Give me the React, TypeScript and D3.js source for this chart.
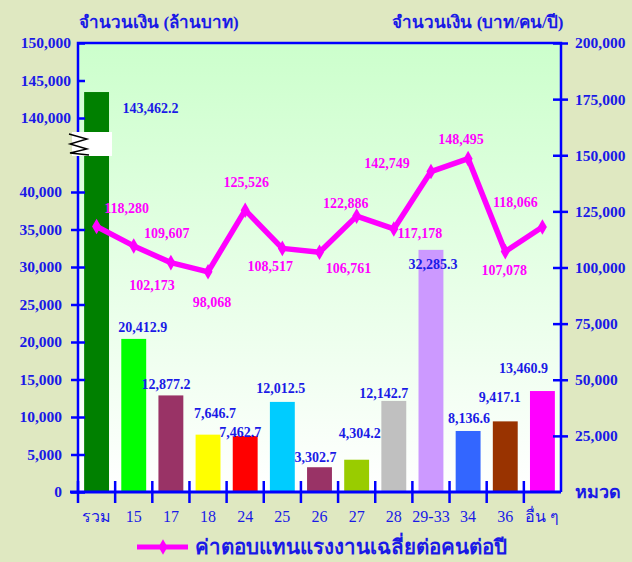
import { useEffect, useRef } from "react";
import * as d3 from "d3";

const categories = ["รวม", "15", "17", "18", "24", "25", "26", "27", "28", "29-33", "34", "36", "อื่น ๆ"];
const amounts = [143462.2, 20412.9, 12877.2, 7646.7, 7462.7, 12012.5, 3302.7, 4304.2, 12142.7, 32285.3, 8136.6, 9417.1, 13460.9];
const perPerson = [118280, 109607, 102173, 98068, 125526, 108517, 106761, 122886, 117178, 142749, 148495, 107078, 118066];
const barColors = ["#008000", "#00ff00", "#993366", "#ffff00", "#ff0000", "#00ccff", "#993366", "#99cc00", "#c0c0c0", "#cc99ff", "#3366ff", "#993300", "#ff00ff"];
const leftTicksLow = [0, 5000, 10000, 15000, 20000, 25000, 30000, 35000, 40000];
const leftTicksHigh = [140000, 145000, 150000];
const rightTicks = [25000, 50000, 75000, 100000, 125000, 150000, 175000, 200000];

// hand placed label offsets (label centre relative to bar top / line point)
const barLabelOffsets = [[54, 16], [9, -12], [-5, -11], [7, -22], [-5, -4], [-1.5, -14], [-4, -10], [3, -27], [-10, -8], [2, 14], [1, -13], [-5.5, -24], [-19, -23]];
const lineLabelOffsets = [[30, -18], [33, -13], [-19, 22], [4, 30], [1, -28], [-12, 18], [29, 16], [-11, -13], [26, 4], [-44, -8], [-7, -20], [-1, 18], [-27, -25]];

const BLUE = "#0000ff";
const TEXT_BLUE = "#1a1ae6";
const MAGENTA = "#ff00ff";
const SERIF = "'Liberation Serif', 'Times New Roman', serif";

export default function App() {
  const svgRef = useRef<SVGSVGElement>(null);

  useEffect(() => {
    const width = 632;
    const height = 562;
    const left = 78;
    const right = 561;
    const top = 43;
    const bottom = 492;
    const breakTop = 132;
    const breakBottom = 156;

    const svg = d3.select(svgRef.current);
    svg.selectAll("*").remove();

    const defs = svg.append("defs");
    const grad = defs
      .append("linearGradient")
      .attr("id", "plotBg")
      .attr("x1", 0)
      .attr("y1", 0)
      .attr("x2", 0)
      .attr("y2", 1);
    grad.append("stop").attr("offset", "0%").attr("stop-color", "#ccffcc");
    grad.append("stop").attr("offset", "100%").attr("stop-color", "#ffffff");

    svg.append("rect").attr("width", width).attr("height", height).attr("fill", "#dfe8c1");
    svg
      .append("rect")
      .attr("x", left)
      .attr("y", top)
      .attr("width", right - left)
      .attr("height", bottom - top)
      .attr("fill", "url(#plotBg)");

    const x = d3.scaleBand<string>().domain(categories).range([left, right]).padding(0);
    const barW = x.bandwidth() * 0.67;
    const yLow = d3.scaleLinear().domain([0, 40000]).range([bottom, 192]);
    const yHigh = d3.scaleLinear().domain([140000, 150000]).range([118, top]);
    const yBar = (v: number) => (v > 40000 ? yHigh(v) : yLow(v));
    const yRight = d3.scaleLinear().domain([0, 200000]).range([bottom, top]);
    const cx = (c: string) => (x(c) as number) + x.bandwidth() / 2;

    // bars
    svg
      .append("g")
      .selectAll("rect")
      .data(amounts)
      .join("rect")
      .attr("x", (_, i) => cx(categories[i]) - barW / 2)
      .attr("y", (d) => yBar(d))
      .attr("width", barW)
      .attr("height", (d) => bottom - yBar(d))
      .attr("fill", (_, i) => barColors[i]);

    // frame
    svg
      .append("path")
      .attr("d", `M${left},${bottom}V${top}H${right}V${bottom}`)
      .attr("fill", "none")
      .attr("stroke", BLUE)
      .attr("stroke-width", 2.5);

    // left axis, lower part
    const axLow = svg
      .append("g")
      .attr("transform", `translate(${left},0)`)
      .call(d3.axisLeft(yLow).tickValues(leftTicksLow).tickSize(7).tickPadding(9).tickFormat(d3.format(",")));
    axLow.select(".domain").remove();
    axLow.selectAll(".tick line").attr("x1", 7).attr("stroke", BLUE).attr("stroke-width", 2.5);

    // left axis, upper part
    const axHigh = svg
      .append("g")
      .attr("transform", `translate(${left},0)`)
      .call(d3.axisLeft(yHigh).tickValues(leftTicksHigh).tickSize(-7).tickPadding(7).tickFormat(d3.format(",")));
    axHigh.select(".domain").remove();
    axHigh.selectAll(".tick line").attr("stroke", BLUE).attr("stroke-width", 2.5);

    // right axis
    const axRight = svg
      .append("g")
      .attr("transform", `translate(${right},0)`)
      .call(d3.axisRight(yRight).tickValues(rightTicks).tickSize(7).tickPadding(7).tickFormat(d3.format(",")));
    axRight.select(".domain").remove();
    axRight.selectAll(".tick line").attr("x1", -8).attr("stroke", BLUE).attr("stroke-width", 2.5);

    [axLow, axHigh, axRight].forEach((g) =>
      g
        .selectAll(".tick text")
        .attr("fill", TEXT_BLUE)
        .attr("font-family", SERIF)
        .attr("font-weight", "bold")
        .attr("font-size", 15.5)
    );

    // bottom axis
    const bounds = categories.slice(1).map((c) => x(c) as number);
    svg
      .append("line")
      .attr("x1", left - 8)
      .attr("x2", right)
      .attr("y1", bottom)
      .attr("y2", bottom)
      .attr("stroke", BLUE)
      .attr("stroke-width", 3);
    svg
      .append("g")
      .selectAll("line")
      .data([left, ...bounds])
      .join("line")
      .attr("x1", (d) => d)
      .attr("x2", (d) => d)
      .attr("y1", bottom - 11)
      .attr("y2", bottom + 11)
      .attr("stroke", BLUE)
      .attr("stroke-width", 2.5);
    svg
      .append("g")
      .selectAll("text")
      .data(categories)
      .join("text")
      .attr("x", (d) => cx(d))
      .attr("y", 516)
      .attr("dy", "0.35em")
      .attr("text-anchor", "middle")
      .attr("fill", TEXT_BLUE)
      .attr("font-family", SERIF)
      .attr("font-size", 16)
      .text((d) => d);

    // axis break
    svg
      .append("rect")
      .attr("x", 72)
      .attr("y", breakTop)
      .attr("width", 40)
      .attr("height", breakBottom - breakTop)
      .attr("fill", "#ffffff");
    svg
      .append("polyline")
      .attr("points", "69,134 87,139 70,144 87,149 70,153 89,155")
      .attr("fill", "none")
      .attr("stroke", "#000")
      .attr("stroke-width", 1.4);

    // line series
    const pts = perPerson.map((v, i) => [cx(categories[i]), yRight(v)] as [number, number]);
    svg
      .append("path")
      .datum(pts)
      .attr("d", d3.line())
      .attr("fill", "none")
      .attr("stroke", MAGENTA)
      .attr("stroke-width", 5.5)
      .attr("stroke-linejoin", "round");
    svg
      .append("g")
      .selectAll("path")
      .data(pts)
      .join("path")
      .attr("d", d3.symbol(d3.symbolDiamond, 70))
      .attr("transform", (d) => `translate(${d[0]},${d[1]})`)
      .attr("fill", MAGENTA);

    // bar labels
    svg
      .append("g")
      .selectAll("text")
      .data(amounts)
      .join("text")
      .attr("x", (_, i) => cx(categories[i]) + barLabelOffsets[i][0])
      .attr("y", (d, i) => yBar(d) + barLabelOffsets[i][1])
      .attr("dy", "0.35em")
      .attr("text-anchor", "middle")
      .attr("fill", TEXT_BLUE)
      .attr("font-family", SERIF)
      .attr("font-weight", "bold")
      .attr("font-size", 14)
      .text((d) => d3.format(",.1f")(d));

    // line labels
    svg
      .append("g")
      .selectAll("text")
      .data(perPerson)
      .join("text")
      .attr("x", (_, i) => pts[i][0] + lineLabelOffsets[i][0])
      .attr("y", (_, i) => pts[i][1] + lineLabelOffsets[i][1])
      .attr("dy", "0.35em")
      .attr("text-anchor", "middle")
      .attr("fill", MAGENTA)
      .attr("font-family", SERIF)
      .attr("font-weight", "bold")
      .attr("font-size", 14)
      .text((d) => d3.format(",")(d));

    // titles
    const title = (tx: number, text: string) =>
      svg
        .append("text")
        .attr("x", tx)
        .attr("y", 22)
        .attr("dy", "0.35em")
        .attr("text-anchor", "middle")
        .attr("fill", TEXT_BLUE)
        .attr("font-family", SERIF)
        .attr("font-weight", "bold")
        .attr("font-size", 17)
        .text(text);
    title(159, "จำนวนเงิน (ล้านบาท)");
    title(478, "จำนวนเงิน (บาท/คน/ปี)");

    svg
      .append("text")
      .attr("x", 575)
      .attr("y", bottom)
      .attr("dy", "0.35em")
      .attr("fill", TEXT_BLUE)
      .attr("font-family", SERIF)
      .attr("font-weight", "bold")
      .attr("font-size", 18)
      .text("หมวด");

    // legend
    svg
      .append("line")
      .attr("x1", 137)
      .attr("x2", 188)
      .attr("y1", 547)
      .attr("y2", 547)
      .attr("stroke", MAGENTA)
      .attr("stroke-width", 5);
    svg
      .append("path")
      .attr("d", d3.symbol(d3.symbolDiamond, 70))
      .attr("transform", "translate(163,547)")
      .attr("fill", MAGENTA);
    svg
      .append("text")
      .attr("x", 195)
      .attr("y", 547)
      .attr("dy", "0.35em")
      .attr("fill", TEXT_BLUE)
      .attr("font-family", SERIF)
      .attr("font-weight", "bold")
      .attr("font-size", 20.5)
      .text("ค่าตอบแทนแรงงานเฉลี่ยต่อคนต่อปี");
  }, []);

  return (
    <svg
      ref={svgRef}
      width={632}
      height={562}
      viewBox="0 0 632 562"
      style={{ position: "absolute", left: 0, top: 0 }}
    />
  );
}
